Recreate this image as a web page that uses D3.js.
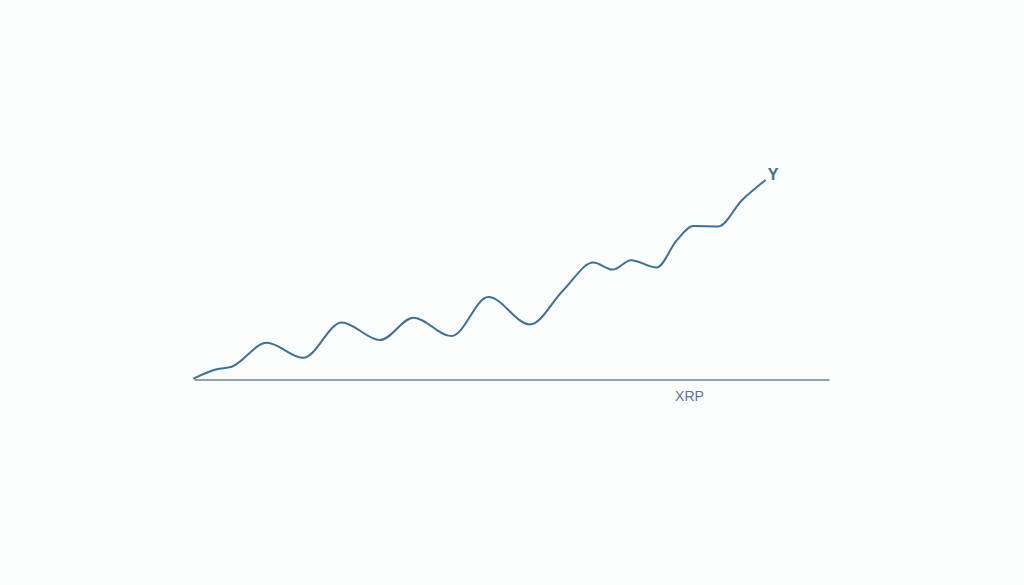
<!DOCTYPE html>
<html>
<head>
<meta charset="utf-8">
<script src="https://cdn.jsdelivr.net/npm/d3@7.9.0/dist/d3.min.js"></script>
<style>
  html, body { margin: 0; padding: 0; background: #fbfcfc; }
  svg { display: block; }
</style>
</head>
<body>
<div id="chart"></div>
<script>
// readings
const steps = [0, 22.7, 37.7, 72.7, 109.3, 147.7, 186, 219.3, 257.7, 294.3, 336,
  369.3, 399.3, 418.7, 437, 462.7, 482.7, 499.3, 524.3, 547.7, 571];
const values = [1.2, 10.2, 12.8, 36.8, 21.8, 57.2, 39.5, 61.8, 43.5, 82.8, 55.2,
  89.5, 117.2, 110.2, 119.5, 112.2, 139.5, 153.8, 153.5, 179.5, 199.5];
const xLabel = 'XRP';
const yLabel = 'Y';

const width = 1024;
const height = 585;
const margin = { top: 180, right: 195, bottom: 205.5, left: 194 };

const usableArea = {
  top: margin.top,
  right: width - margin.right,
  bottom: height - margin.bottom,
  left: margin.left,
};

const svg = d3.select('#chart')
  .append('svg')
  .attr('width', width)
  .attr('height', height);

const xScale = d3.scaleLinear()
  .domain([0, 635])
  .range([usableArea.left, usableArea.right]);

const yScale = d3.scaleLinear()
  .domain([0, 200])
  .range([usableArea.bottom, usableArea.top]);

// x axis: a bare line, no ticks
svg.append('g')
  .attr('transform', `translate(0, ${usableArea.bottom})`)
  .call(d3.axisBottom(xScale).ticks(0).tickSize(0).tickSizeOuter(0))
  .call(g => g.select('.domain')
    .attr('stroke', '#6a8797')
    .attr('stroke-width', 1.5));

svg.append('text')
  .attr('x', xScale(495.5))
  .attr('y', usableArea.bottom + 21)
  .attr('text-anchor', 'middle')
  .attr('font-family', 'Liberation Sans, Arial, sans-serif')
  .attr('font-size', 14)
  .attr('fill', '#5b7687')
  .text(xLabel);

const points = steps.map((s, i) => ({ s, v: values[i] }));

const line = d3.line()
  .x(d => xScale(d.s))
  .y(d => yScale(d.v))
  .curve(d3.curveMonotoneX);

svg.append('path')
  .datum(points)
  .attr('fill', 'none')
  .attr('stroke', '#3f7194')
  .attr('stroke-width', 2)
  .attr('stroke-linecap', 'round')
  .attr('d', line);

svg.append('text')
  .attr('x', xScale(579))
  .attr('y', yScale(199.5))
  .attr('text-anchor', 'middle')
  .attr('font-family', 'Liberation Sans, Arial, sans-serif')
  .attr('font-size', 16)
  .attr('font-weight', 'bold')
  .attr('fill', '#3f6d8c')
  .text(yLabel);
</script>
</body>
</html>
